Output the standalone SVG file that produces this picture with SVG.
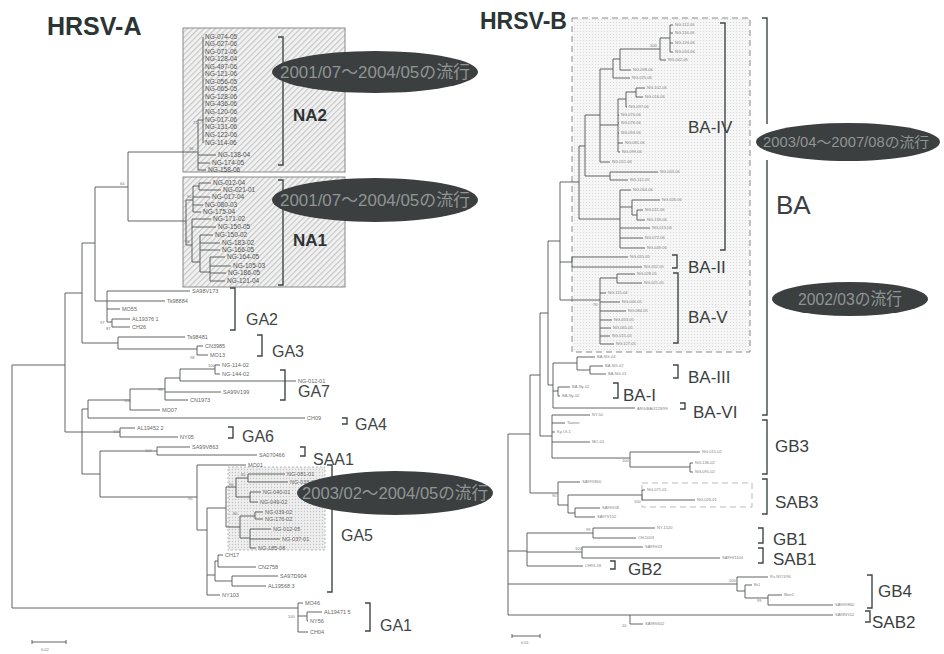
<svg xmlns="http://www.w3.org/2000/svg" width="944" height="654" viewBox="0 0 944 654">
<defs>
<pattern id="hatch" width="4" height="4" patternUnits="userSpaceOnUse" patternTransform="rotate(45)"><rect width="4" height="4" fill="#f2f2f2"/><line x1="0.6" y1="0" x2="0.6" y2="4" stroke="#c6c6c6" stroke-width="1.2"/></pattern>
<pattern id="dots" width="3" height="3" patternUnits="userSpaceOnUse"><rect width="3" height="3" fill="#f6f6f6"/><circle cx="1.5" cy="1.5" r="0.55" fill="#d6d6d6"/></pattern>
<pattern id="dots2" width="3" height="3" patternUnits="userSpaceOnUse"><rect width="3" height="3" fill="#eeeeee"/><circle cx="1.5" cy="1.5" r="0.7" fill="#c4c4c4"/></pattern>
</defs>
<style>
.br{stroke:#505555;stroke-width:0.9;fill:none}
.bk{stroke:#3f4646;stroke-width:1.4;fill:none}
.na{font-family:'Liberation Sans',Arial,sans-serif;font-size:6.5px;fill:#555}
.lf{font-family:'Liberation Sans',Arial,sans-serif;font-size:5.5px;fill:#666}
.rf{font-family:'Liberation Sans',Arial,sans-serif;font-size:4px;fill:#808080}
.sp{font-family:'Liberation Sans',Arial,sans-serif;font-size:4px;fill:#777}
.cl{font-family:'Liberation Sans',Arial,sans-serif;font-size:16px;fill:#3f4646}
.clb{font-family:'Liberation Sans',Arial,sans-serif;font-size:17px;fill:#3a4040}
.nb{font-family:'Liberation Sans',Arial,sans-serif;font-size:17px;font-weight:bold;fill:#2e3333}
.ti{font-family:'Liberation Sans',Arial,sans-serif;font-weight:bold;fill:#2b3535}
.el{fill:#3b3f3f}
.et{font-family:'Liberation Sans','Noto Sans CJK JP',sans-serif;font-size:17px;fill:#8f9595;text-anchor:middle}
.et2{font-family:'Liberation Sans','Noto Sans CJK JP',sans-serif;font-size:14px;fill:#8f9595;text-anchor:middle}
</style>
<rect width="944" height="654" fill="#ffffff"/>

<g id="titles">
<text class="ti" x="47" y="35" font-size="25">HRSV-A</text>
<text class="ti" x="480" y="29" font-size="23">HRSV-B</text>
</g>

<g id="boxes">
<rect x="183" y="28" width="162" height="144" fill="url(#hatch)" stroke="#8a8a8a" stroke-width="1"/>
<rect x="183" y="177" width="162" height="110" fill="url(#hatch)" stroke="#8a8a8a" stroke-width="1"/>
<rect x="228" y="467" width="97" height="83" fill="url(#dots2)" stroke="#a8a8a8" stroke-width="0.8" stroke-dasharray="2 2"/>
<rect x="572" y="18" width="178" height="334" fill="url(#dots)" stroke="#8a8a8a" stroke-width="1" stroke-dasharray="6 4"/>
<rect x="642" y="483" width="110" height="24" fill="none" stroke="#bbbbbb" stroke-width="1" stroke-dasharray="6 4"/>
</g>

<g id="connectors">
<path class="br" d="M12 365V608M12 365H65M65 293V432M65 293H82M82 243V343M82 243H95M95 187V301M95 187H128M128 152V221M128 152H198M128 221H186"/>
<path class="br" d="M198 120V170M198 120H203M203 37V143M198 155H216M198 163H210M198 170H206"/>
<path class="br" d="M186 200V245M186 200H193M193 186V212M193 186H199M199 183V190M199 183H211M199 190H221M193 197H210M193 205H203M193 212H201M186 245H192M192 219V262M192 219H211M192 227H216M192 262H200M200 235V272M200 235H213M200 243H220M200 250H220M200 272H210M210 257V281M210 257H225M210 266H231M210 273H226M210 281H225"/>
<path class="br" d="M95 301H165M107 291V322M107 291H190M107 309H120M107 322H112M112 319V327M112 319H130M112 327H130"/>
<path class="br" d="M82 343H118M118 337V349M118 337H185M118 349H197M197 346V355M197 346H203M197 355H208"/>
<path class="br" d="M65 432H82M82 409V474M82 409H88M88 400V418M88 400H130M130 389V410M130 389H165M165 378V400M165 378H180M180 369V381M180 369H215M215 365V374M215 365H220M215 374H220M180 381H296M165 392H221M165 400H188M130 410H160M88 418H305"/>
<path class="br" d="M82 432H120M120 428V437M120 428H135M120 437H178"/>
<path class="br" d="M82 474H100M100 451V497M100 451H157M157 447V455M157 447H190M157 455H257M100 497H197M197 465V530M197 465H246M197 530H207M207 508V595M207 508H226M226 487V527M226 487H236M236 478V497M236 478H248M248 474V482M248 474H285M248 482H288M236 497H250M250 492V502M250 492H261M250 502H258M226 527H240M240 516V538M240 516H255M255 512V519M255 512H263M255 519H263M240 538H250M250 529V548M250 529H271M250 539H280M250 548H256M207 575H215M215 561V581M215 561H218M218 555V567M218 555H223M218 567H256M215 581H232M232 576V586M232 576H278M232 586H266M207 595H220"/>
<path class="br" d="M12 608H298M298 603V632M298 603H303M298 616H307M307 612V621M307 612H322M307 621H308M298 632H308"/>
<path class="br" d="M670 25V52M670 25H673M670 33H673M670 43H673M670 52H673M660 38V60M660 38H670M660 60H666M620 49V70M620 49H660M620 70H631M613 59V78M613 59H620M613 78H630M636 88V97M636 88H645M636 97H643M626 92V107M626 92H636M626 107H627M618 99V152M618 99H626M618 115H619M618 123H619M618 133H619M618 143H623M618 152H620M600 69V162M600 69H613M600 125H618M600 162H610M585 115V176M585 115H600M585 176H610M610 172V180M610 172H658M610 180H628M637 210V220M637 210H643M637 220H645M632 200V215M632 200H660M632 215H637M620 190V248M620 190H631M620 207H632M620 228H650M620 238H643M620 248H645M579 146V219M579 146H585M579 219H620M560 182H579M560 182V300"/>
<path class="br" d="M560 262H572M572 257V267M572 257H628M572 267H642M560 300H600M600 278V344M600 278H617M617 274V283M617 274H635M617 283H642M600 293H606M600 302H620M600 311H626M600 320H612M600 328H611M600 336H610M600 344H614"/>
<path class="br" d="M548 241V385M548 241H560M553 363V408M553 363H577M577 357V370M577 357H595M577 370H590M590 366V374M590 366H603M590 374H606M548 385H553M553 391H558M558 387V396M558 387H570M558 396H560M553 408H635"/>
<path class="br" d="M540 313V436M540 313H548M540 436H552M552 415V458M552 415H590M552 423H565M552 432H555M552 442H590M552 458H630M630 452V467M630 452H700M630 467H690M690 463V472M690 463H693M690 472H693"/>
<path class="br" d="M530 375V493M530 375H540M530 493H558M558 482V505M558 482H580M558 505H568M568 495V513M568 495H642M642 490V500M642 490H645M642 500H695M568 513H575M575 508V517M575 508H600M575 517H595"/>
<path class="br" d="M508 434V615M508 434H530M508 551H527M527 533V566M527 533H593M593 528V538M593 528H655M593 538H636M527 552H582M582 547V558M582 547H643M582 558H720M527 566H583"/>
<path class="br" d="M508 584H737M737 577V591M737 577H768M737 591H745M745 585V598M745 585H752M745 598H768M768 595V605M768 595H782M768 605H833M508 615H833M630 615V624M630 624H643"/>
<path class="br" d="M32 642H66M32 640V644M66 640V644M512 636H540M512 634V638M540 634V638"/>
</g>

<g id="brackets">
<path class="bk" d="M278 37H283V165H278M278 180H283V285H278M230 288H235V330H230M257 335H262V356H257M280 370H285V400H280M342 418H347V424H342M228 427H233V438H228M300 447H305V456H300M327 465H332V592H327M365 603H370V631H365"/>
<path class="bk" d="M720 23H725V250H720M672 255H677V268H672M673 273H678V343H673M673 365H678V378H673M613 383H618V398H613M680 403H685V409H680M762 18H767V124M767 160V415H762M762 420H767V474H762M762 479H767V514H762M758 528H763V543H758M758 548H763V563H758M610 561H615V569H610M867 575H872V608H867M865 611H870V622H865"/>
</g>

<g id="clade-NA2">
<text class="na" x="205" y="39">NG-074-05</text><text class="na" x="205" y="46">NG-027-06</text><text class="na" x="205" y="54">NG-071-06</text><text class="na" x="205" y="61">NG-128-04</text><text class="na" x="205" y="69">NG-497-06</text><text class="na" x="205" y="76">NG-121-06</text><text class="na" x="205" y="84">NG-056-05</text><text class="na" x="205" y="91">NG-065-05</text><text class="na" x="205" y="99">NG-128-06</text><text class="na" x="205" y="106">NG-436-06</text><text class="na" x="205" y="114">NG-120-06</text><text class="na" x="205" y="122">NG-017-06</text><text class="na" x="205" y="129">NG-131-06</text><text class="na" x="205" y="137">NG-122-06</text><text class="na" x="205" y="145">NG-114-06</text><text class="na" x="218" y="157">NG-138-04</text><text class="na" x="212" y="165">NG-174-05</text><text class="na" x="208" y="172">NG-158-06</text>
<text class="sp" x="193" y="124">71</text><text class="sp" x="189" y="150">96</text>
<text class="nb" x="293" y="121">NA2</text>
</g>

<g id="clade-NA1">
<text class="na" x="213" y="185">NG-012-04</text><text class="na" x="223" y="192">NG-021-01</text><text class="na" x="212" y="199">NG-017-04</text><text class="na" x="205" y="207">NG-080-03</text><text class="na" x="203" y="214">NG-175-04</text><text class="na" x="213" y="221">NG-171-02</text><text class="na" x="218" y="229">NG-150-05</text><text class="na" x="215" y="237">NG-150-02</text><text class="na" x="222" y="245">NG-183-02</text><text class="na" x="222" y="252">NG-166-05</text><text class="na" x="227" y="259">NG-164-05</text><text class="na" x="233" y="268">NG-105-03</text><text class="na" x="228" y="275">NG-186-05</text><text class="na" x="227" y="283">NG-121-04</text>
<text class="sp" x="187" y="198">90</text><text class="sp" x="185" y="243">88</text><text class="sp" x="120" y="185">64</text>
<text class="nb" x="293" y="246">NA1</text>
</g>

<g id="clade-GA2">
<text class="lf" x="192" y="293">SA98V173</text><text class="lf" x="167" y="303">Ts98884</text><text class="lf" x="122" y="311">MO55</text><text class="lf" x="132" y="321">AL19376 1</text><text class="lf" x="132" y="329">CH26</text>
<text class="sp" x="100" y="324">97</text><text class="sp" x="106" y="330">87</text>
<text class="cl" x="246" y="325">GA2</text>
</g>

<g id="clade-GA3">
<text class="lf" x="187" y="339">Ts98481</text><text class="lf" x="205" y="348">CN3985</text><text class="lf" x="210" y="357">MO13</text>
<text class="sp" x="190" y="359">98</text>
<text class="cl" x="272" y="357">GA3</text>
</g>

<g id="clade-GA7">
<text class="lf" x="222" y="367">NG-114-02</text><text class="lf" x="222" y="376">NG-144-02</text><text class="lf" x="298" y="383">NG-012-01</text><text class="lf" x="223" y="394">SA99V199</text><text class="lf" x="190" y="402">CN1973</text><text class="lf" x="162" y="412">MO07</text>
<text class="sp" x="208" y="367">100</text><text class="sp" x="158" y="391">98</text><text class="sp" x="124" y="402">100</text>
<text class="cl" x="298" y="397">GA7</text>
</g>

<g id="clade-GA4">
<text class="lf" x="307" y="420">CH09</text>
<text class="cl" x="355" y="430">GA4</text>
</g>

<g id="clade-GA6">
<text class="lf" x="137" y="430">AL19452 2</text><text class="lf" x="180" y="439">NY05</text>
<text class="sp" x="113" y="433">100</text>
<text class="cl" x="242" y="442">GA6</text>
</g>

<g id="clade-SAA1">
<text class="lf" x="192" y="449">SA99V863</text><text class="lf" x="259" y="457">SA070466</text>
<text class="sp" x="145" y="452">100</text>
<text class="cl" x="313" y="465">SAA1</text>
</g>

<g id="clade-GA5">
<text class="lf" x="248" y="467">MO01</text><text class="lf" x="287" y="476">NG-081-01</text><text class="lf" x="290" y="484">NG-033-01</text><text class="lf" x="263" y="494">NG-040-01</text><text class="lf" x="260" y="504">NG-049-02</text><text class="lf" x="265" y="514">NG-039-02</text><text class="lf" x="265" y="521">NG-176-02</text><text class="lf" x="273" y="531">NG-012-05</text><text class="lf" x="282" y="541">NG-037-01</text><text class="lf" x="258" y="550">NG-185-08</text><text class="lf" x="225" y="557">CH17</text><text class="lf" x="258" y="569">CN2758</text><text class="lf" x="280" y="578">SA97D904</text><text class="lf" x="268" y="588">AL19568 3</text><text class="lf" x="222" y="597">NY103</text>
<text class="sp" x="241" y="476">80</text><text class="sp" x="229" y="486">90</text><text class="sp" x="188" y="500">90</text><text class="sp" x="233" y="515">80</text>
<text class="cl" x="341" y="541">GA5</text>
</g>

<g id="clade-GA1">
<text class="lf" x="305" y="605">MO46</text><text class="lf" x="324" y="614">AL19471 5</text><text class="lf" x="310" y="623">NY56</text><text class="lf" x="310" y="634">CH04</text>
<text class="sp" x="288" y="618">100</text>
<text class="cl" x="380" y="631">GA1</text>
</g>

<g id="clade-BA-IV">
<text class="rf" x="675" y="26">NG-112-06</text><text class="rf" x="675" y="34">NG-116-06</text><text class="rf" x="675" y="44">NG-124-06</text><text class="rf" x="675" y="53">NG-024-06</text><text class="rf" x="668" y="61">NG-042-06</text><text class="rf" x="633" y="71">NG-098-06</text><text class="rf" x="632" y="79">NG-025-06</text><text class="rf" x="647" y="89">NG-102-06</text><text class="rf" x="645" y="98">NG-016-06</text><text class="rf" x="629" y="108">NG-037-06</text><text class="rf" x="621" y="116">NG-070-06</text><text class="rf" x="621" y="124">NG-076-06</text><text class="rf" x="621" y="134">NG-093-06</text><text class="rf" x="625" y="144">NG-081-06</text><text class="rf" x="622" y="153">NG-099-06</text><text class="rf" x="612" y="163">NG-051-06</text><text class="rf" x="660" y="173">NG-043-06</text><text class="rf" x="630" y="181">NG-112-05</text><text class="rf" x="633" y="191">NG-064-06</text><text class="rf" x="662" y="201">NG-026-06</text><text class="rf" x="645" y="211">NG-011-06</text><text class="rf" x="647" y="221">NG-139-06</text><text class="rf" x="652" y="229">NG-013-06</text><text class="rf" x="645" y="239">NG-072-06</text><text class="rf" x="647" y="249">NG-049-06</text>
<text class="sp" x="650" y="47">100</text>
<text class="clb" x="688" y="133">BA-IV</text>
</g>

<g id="clade-BA-II">
<text class="rf" x="630" y="258">NG-055-05</text><text class="rf" x="644" y="268">NG-052-05</text>
<text class="clb" x="688" y="273">BA-II</text>
</g>

<g id="clade-BA-V">
<text class="rf" x="637" y="275">NG-028-05</text><text class="rf" x="644" y="284">NG-021-05</text><text class="rf" x="608" y="294">NG-115-04</text><text class="rf" x="622" y="303">NG-040-05</text><text class="rf" x="628" y="312">NG-084-05</text><text class="rf" x="614" y="321">NG-053-05</text><text class="rf" x="613" y="329">NG-065-05</text><text class="rf" x="612" y="337">NG-015-05</text><text class="rf" x="616" y="345">NG-127-05</text>
<text class="sp" x="593" y="306">70</text>
<text class="clb" x="688" y="323">BA-V</text>
</g>

<g id="clade-BA-III">
<text class="rf" x="597" y="358">BA-NG-04</text><text class="rf" x="605" y="367">BA-NG-02</text><text class="rf" x="608" y="375">BA-NG-01</text>
<text class="clb" x="688" y="383">BA-III</text>
</g>

<g id="clade-BA-I">
<text class="rf" x="572" y="388">BA-Ny-01</text><text class="rf" x="562" y="397">BA-Ny-02</text>
<text class="clb" x="623" y="401">BA-I</text>
</g>

<g id="clade-BA-VI">
<text class="rf" x="637" y="410">ARG/BA/4128/99</text>
<text class="clb" x="693" y="418">BA-VI</text>
</g>

<g id="clade-BA">
<text x="776" y="214" font-family="'Liberation Sans',Arial,sans-serif" font-size="26" fill="#3a4040">BA</text>
</g>

<g id="clade-GB3">
<text class="rf" x="592" y="416">NY-50</text><text class="rf" x="567" y="424">Taiwan</text><text class="rf" x="557" y="433">Ky-Ot-1</text><text class="rf" x="592" y="443">MO-01</text><text class="rf" x="702" y="453">NG-015-02</text><text class="rf" x="695" y="464">NG-136-02</text><text class="rf" x="695" y="473">NG-095-02</text>
<text class="sp" x="622" y="462">100</text>
<text class="clb" x="775" y="452">GB3</text>
</g>

<g id="clade-SAB3">
<text class="rf" x="582" y="483">SA99V800</text><text class="rf" x="647" y="491">NG-071-01</text><text class="rf" x="697" y="501">NG-026-01</text><text class="rf" x="602" y="509">SA99V08</text><text class="rf" x="597" y="518">SA97V152</text>
<text class="sp" x="552" y="497">90</text><text class="sp" x="634" y="503">100</text>
<text class="clb" x="775" y="508">SAB3</text>
</g>

<g id="clade-GB1">
<text class="rf" x="657" y="529">NY-1520</text><text class="rf" x="638" y="539">CH-5003</text>
<text class="sp" x="586" y="531">99</text>
<text class="clb" x="773" y="545">GB1</text>
</g>

<g id="clade-SAB1">
<text class="rf" x="645" y="548">SA99V03</text><text class="rf" x="722" y="559">SA99V1104</text>
<text class="sp" x="575" y="550">100</text>
<text class="clb" x="773" y="565">SAB1</text>
</g>

<g id="clade-GB2">
<text class="rf" x="585" y="567">CH93-18</text>
<text class="clb" x="628" y="575">GB2</text>
</g>

<g id="clade-GB4">
<text class="rf" x="770" y="578">Ru NY/1/96</text><text class="rf" x="754" y="586">Br1</text><text class="rf" x="784" y="596">Mon1</text><text class="rf" x="835" y="606">SA99V860</text>
<text class="sp" x="729" y="582">100</text><text class="sp" x="757" y="602">99</text>
<text class="clb" x="878" y="597">GB4</text>
</g>

<g id="clade-SAB2">
<text class="rf" x="835" y="616">SA98V552</text><text class="rf" x="645" y="625">SA98V602</text>
<text class="sp" x="622" y="627">10</text>
<text class="clb" x="872" y="628">SAB2</text>
</g>

<g id="scale">
<text class="sp" x="41" y="651">0.02</text>
<text class="sp" x="521" y="644">0.01</text>
</g>

<g id="epidemic-notes">
<ellipse class="el" cx="375" cy="72" rx="103" ry="21"/>
<text class="et" x="375" y="78" textLength="190" lengthAdjust="spacingAndGlyphs">2001/07～2004/05の流行</text>
<ellipse class="el" cx="375" cy="200" rx="103" ry="22"/>
<text class="et" x="375" y="206" textLength="190" lengthAdjust="spacingAndGlyphs">2001/07～2004/05の流行</text>
<ellipse class="el" cx="395" cy="493" rx="98" ry="22"/>
<text class="et" x="395" y="499" textLength="186" lengthAdjust="spacingAndGlyphs">2003/02～2004/05の流行</text>
<ellipse class="el" cx="848" cy="142" rx="92" ry="19"/>
<text class="et2" x="846" y="147" textLength="166" lengthAdjust="spacingAndGlyphs">2003/04～2007/08の流行</text>
<ellipse class="el" cx="850" cy="299" rx="78" ry="17"/>
<text class="et" x="850" y="305" textLength="104" lengthAdjust="spacingAndGlyphs">2002/03の流行</text>
</g>
</svg>
